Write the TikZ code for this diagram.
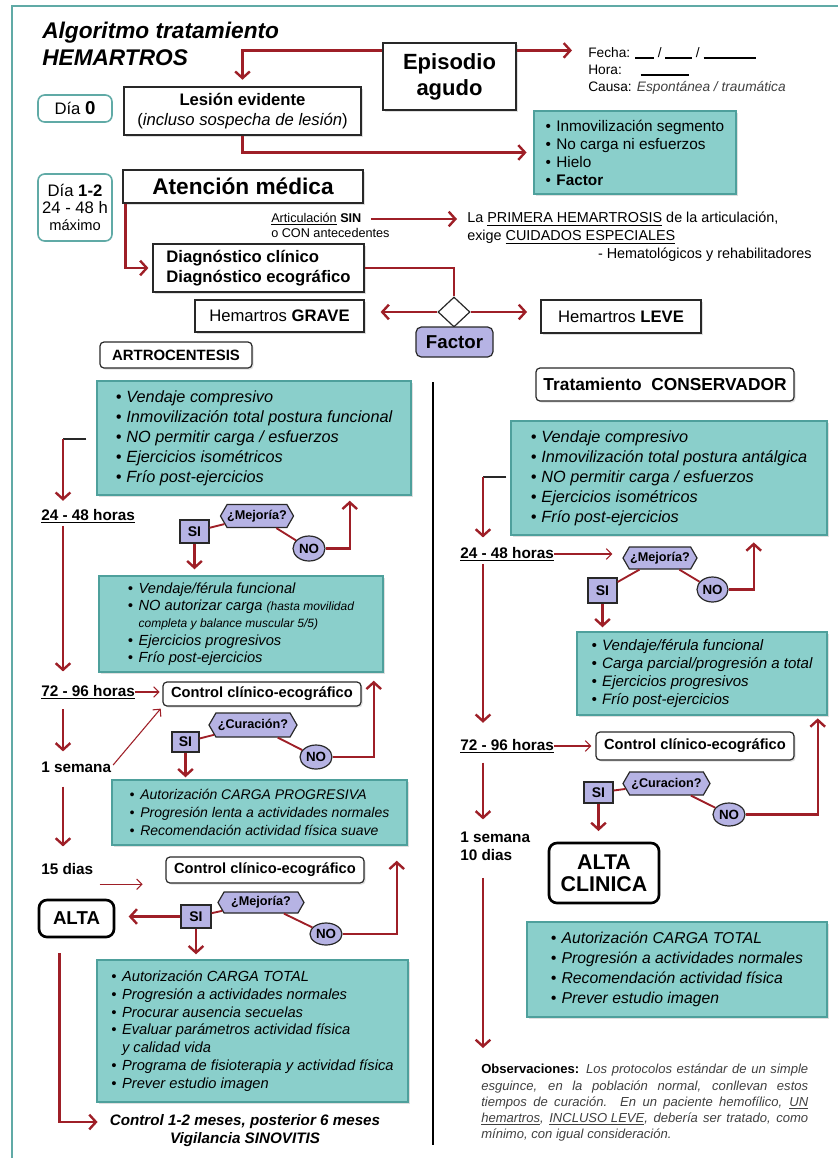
\documentclass[tikz,border=0pt]{standalone}
\usepackage{fontspec}
\setmainfont{Liberation Sans}
\usepackage{xcolor}
\usetikzlibrary{arrows.meta,shapes.geometric,shapes.symbols,shadows,calc}

\definecolor{rojo}{RGB}{158,31,39}
\definecolor{tealfill}{RGB}{138,207,203}
\definecolor{tealline}{RGB}{78,160,156}
\definecolor{marco}{RGB}{96,170,166}
\definecolor{lila}{RGB}{182,179,228}
\definecolor{gris}{RGB}{40,40,40}

\newcommand{\fsz}[2]{\fontsize{#1}{#2}\selectfont}
\newcommand{\vin}{\makebox[8pt][l]{\textbullet}}
\newcommand{\sang}{\hspace*{8pt}}

\tikzset{
  caja/.style={draw=gris, line width=0.9pt, fill=white, inner sep=0pt, align=center,
    drop shadow={opacity=0.25,shadow xshift=1.2pt,shadow yshift=-1.2pt}},
  cajared/.style={caja, rounded corners=3pt},
  cajaalta/.style={draw=black, line width=2pt, fill=white, rounded corners=6pt, inner sep=0pt, align=center, font=\bfseries},
  cajadia/.style={draw=marco, line width=1.2pt, fill=white, rounded corners=5pt, inner sep=0pt, align=center},
  lista/.style={draw=tealline, line width=1.1pt, fill=tealfill, inner sep=0pt, align=left,
    drop shadow={opacity=0.25,shadow xshift=1.2pt,shadow yshift=-1.2pt}},
  pregunta/.style={signal, signal to=east and west, signal pointer angle=120, draw=gris, line width=0.9pt, fill=lila, inner sep=0pt, font=\fsz{9.5}{11}\bfseries},
  sibox/.style={draw=gris, line width=0.9pt, fill=lila, inner sep=0pt, font=\fsz{10.5}{12}\bfseries},
  nobox/.style={ellipse, draw=gris, line width=0.9pt, fill=lila, inner sep=0pt, font=\fsz{10}{12}\bfseries},
  plazo/.style={anchor=west, inner sep=0pt, font=\fsz{11.5}{13}\bfseries},
  flecha/.style={draw=rojo, line width=1.8pt, -{Straight Barb[length=5pt,width=11pt]}},
  flechita/.style={draw=rojo, line width=0.8pt, -{Straight Barb[length=4pt,width=8pt]}},
  enlace/.style={draw=rojo, line width=1.4pt},
}

\begin{document}
\begin{tikzpicture}[x=0.75pt,y=0.75pt,yscale=-1,xscale=1]
\useasboundingbox (0,0) rectangle (838,1158);

%Frame
\draw [marco, line width=2pt] (12,1158) -- (12,6) -- (838,6);
%Straight Lines (separator)
\draw [black, line width=2pt] (433,382) -- (433,1145);

% Text Node
\node [anchor=north west, inner sep=0pt, align=left, font=\fsz{17}{20.25}\bfseries\itshape] (titulo) at (42,22) {Algoritmo tratamiento\\HEMARTROS};

%Shape: Rectangle
\node [caja, minimum width=99.75pt, minimum height=50.25pt, font=\fsz{16.5}{19.5}\bfseries] (episodio) at (449.5,76.5) {Episodio\\agudo};
% Text Node
\node [anchor=north west, inner sep=0pt, align=left, font=\fsz{10.3}{12.75}] (fecha) at (588,47) {Fecha: \rule[-1pt]{14pt}{0.9pt} / \rule[-1pt]{20pt}{0.9pt} / \rule[-1pt]{39pt}{0.9pt}\\Hora:\hspace{14pt}\rule[-1pt]{36pt}{0.9pt}\\Causa: \textit{\color{black!75}Espontánea / traumática}};

%Shape: Rectangle
\node [cajadia, minimum width=55.5pt, minimum height=20.25pt, font=\fsz{12.5}{14}] (dia0) at (75,108.5) {Día \textbf{\fsz{14}{14}0}};
\node [caja, minimum width=177.75pt, minimum height=36pt, font=\fsz{12.5}{15}] (lesion) at (242.5,111) {\textbf{Lesión evidente}\\(\textit{incluso sospecha de lesión})};
\node [lista, minimum width=151.5pt, minimum height=62.25pt, font=\fsz{11.5}{13.5}] (cuidados) at (635,152.5) {\vin Inmovilización segmento\\\vin No carga ni esfuerzos\\\vin Hielo\\\vin \textbf{Factor}};

\node [cajadia, minimum width=55.5pt, minimum height=50.25pt, font=\fsz{12.5}{13}] (dia12) at (75,207.5) {Día \textbf{1-2}\\24 - 48 h\\{\fsz{11}{13}máximo}};
\node [caja, minimum width=180pt, minimum height=24.75pt, font=\fsz{17}{20}\bfseries] (atencion) at (243,186.5) {Atención médica};

% Text Node
\node [anchor=west, inner sep=0pt, font=\fsz{9.5}{11}] (artsin) at (271,219) {\underline{Articulación} \textbf{SIN}};
\node [anchor=west, inner sep=0pt, font=\fsz{9.5}{11}] (conant) at (271,233) {o CON antecedentes};
\node [anchor=north west, inner sep=0pt, align=left, font=\fsz{10.8}{13.5}] (primera) at (467,212) {La \underline{PRIMERA HEMARTROSIS} de la articulación,\\exige \underline{CUIDADOS ESPECIALES}};
\node [anchor=east, inner sep=0pt, font=\fsz{10.8}{13.5}] (hemat) at (812,255) {- Hematológicos y rehabilitadores};

%Shape: Rectangle
\node [caja, align=left, minimum width=158.25pt, minimum height=36pt, font=\fsz{12.5}{15}\bfseries] (diagnostico) at (258.5,268) {Diagnóstico clínico\\Diagnóstico ecográfico};
%Shape: Diamond
\node [diamond, draw=gris, line width=0.9pt, fill=white, inner sep=0pt, minimum width=24pt, minimum height=22.5pt] (rombo) at (454,312) {};
\node [caja, minimum width=126.75pt, minimum height=24pt, font=\fsz{12.5}{14}] (grave) at (279.5,316) {Hemartros \textbf{GRAVE}};
\node [caja, minimum width=120pt, minimum height=24.75pt, font=\fsz{12.5}{14}] (leve) at (621,316.5) {Hemartros \textbf{LEVE}};
\node [draw=gris, line width=0.9pt, fill=lila, rounded corners=4pt, inner sep=0pt, minimum width=57.75pt, minimum height=22.5pt, font=\fsz{14}{16}\bfseries] (factor) at (454.5,342) {Factor};
\node [cajared, minimum width=114pt, minimum height=19.5pt, font=\fsz{11.2}{13}\bfseries] (artro) at (176,355) {ARTROCENTESIS};
\node [cajared, minimum width=193.5pt, minimum height=24.75pt, font=\fsz{13}{15}\bfseries] (conserv) at (665,384.5) {Tratamiento\ \ CONSERVADOR};

%Left column
\node [lista, minimum width=235.5pt, minimum height=85.5pt, font=\fsz{12.2}{15}\itshape] (reposo) at (254,438) {\vin Vendaje compresivo\\\vin Inmovilización total postura funcional\\\vin NO permitir carga / esfuerzos\\\vin Ejercicios isométricos\\\vin Frío post-ejercicios};
\node [plazo] (h2448A) at (41,516) {\underline{24 - 48 horas}};
\node [pregunta, minimum width=54.75pt, minimum height=17.25pt] (mejA) at (257,516) {¿Mejoría?};
\node [sibox, minimum width=21.75pt, minimum height=17.25pt] (siA) at (194.5,531.5) {SI};
\node [nobox, minimum width=24pt, minimum height=18.75pt] (noA) at (309,548.5) {NO};
\node [lista, minimum width=213pt, minimum height=72pt, font=\fsz{11}{13}\itshape] (funcional) at (241,624) {\vin Vendaje/férula funcional\\\vin NO autorizar carga {\fsz{9}{13}(hasta movilidad}\\\sang{\fsz{9}{13}completa y balance muscular 5/5)}\\\vin Ejercicios progresivos\\\vin Frío post-ejercicios};

\node [plazo] (h7296A) at (41,692) {\underline{72 - 96 horas}};
\node [cajared, minimum width=148.5pt, minimum height=18pt, font=\fsz{11}{13}\bfseries] (ctrlA) at (262,694) {Control clínico-ecográfico};
\node [pregunta, minimum width=66pt, minimum height=18pt] (curA) at (253,725) {¿Curación?};
\node [sibox, minimum width=20.25pt, minimum height=15pt] (siB) at (185.5,742) {SI};
\node [nobox, minimum width=24pt, minimum height=18pt] (noB) at (316,757) {NO};
\node [plazo] (sem1A) at (41,767) {1 semana};
\node [lista, minimum width=221.25pt, minimum height=48.75pt, font=\fsz{10.5}{13.5}\itshape] (progresiva) at (259.5,812.5) {\vin Autorización CARGA PROGRESIVA\\\vin Progresión lenta a actividades normales\\\vin Recomendación actividad física suave};

\node [plazo] (d15A) at (41,869) {15 dias};
\node [cajared, minimum width=148.5pt, minimum height=19.5pt, font=\fsz{11}{13}\bfseries] (ctrlB) at (265,870) {Control clínico-ecográfico};
\node [pregunta, minimum width=64.5pt, minimum height=15.75pt] (mejB) at (261,902.5) {¿Mejoría?};
\node [sibox, minimum width=22.5pt, minimum height=17.25pt] (siC) at (196,916.5) {SI};
\node [nobox, minimum width=24pt, minimum height=16.5pt] (noC) at (326,934) {NO};
\node [cajaalta, minimum width=56.25pt, minimum height=27.75pt, font=\fsz{14}{16}\bfseries] (altaA) at (76.5,918.5) {ALTA};
\node [lista, minimum width=233.25pt, minimum height=106.5pt, font=\fsz{11}{13.3}\itshape] (total) at (252.5,1031) {\vin Autorización CARGA TOTAL\\\vin Progresión a actividades normales\\\vin Procurar ausencia secuelas\\\vin Evaluar parámetros actividad física\\\sang y calidad vida\\\vin Programa de fisioterapia y actividad física\\\vin Prever estudio imagen};
% Text Node
\node [anchor=north, inner sep=0pt, align=center, font=\fsz{11.4}{13.5}\bfseries\itshape] (ctrl12) at (245,1114) {Control 1-2 meses, posterior 6 meses\\Vigilancia SINOVITIS};

%Right column
\node [lista, minimum width=237pt, minimum height=85.5pt, font=\fsz{12.2}{15}\itshape] (reposoB) at (669,478) {\vin Vendaje compresivo\\\vin Inmovilización total postura antálgica\\\vin NO permitir carga / esfuerzos\\\vin Ejercicios isométricos\\\vin Frío post-ejercicios};
\node [plazo] (h2448B) at (460,554) {\underline{24 - 48 horas}};
\node [pregunta, minimum width=55.5pt, minimum height=16.5pt] (mejC) at (660,558) {¿Mejoría?};
\node [sibox, minimum width=21.75pt, minimum height=18.75pt] (siD) at (602.5,590.5) {SI};
\node [nobox, minimum width=23.25pt, minimum height=18.75pt] (noD) at (712.5,589.5) {NO};
\node [lista, minimum width=187.5pt, minimum height=62.25pt, font=\fsz{11.3}{13.5}\itshape] (parcial) at (702,673.5) {\vin Vendaje/férula funcional\\\vin Carga parcial/progresión a total\\\vin Ejercicios progresivos\\\vin Frío post-ejercicios};

\node [plazo] (h7296B) at (460,746) {\underline{72 - 96 horas}};
\node [cajared, minimum width=148.5pt, minimum height=21pt, font=\fsz{11}{13}\bfseries] (ctrlC) at (695,746) {Control clínico-ecográfico};
\node [pregunta, minimum width=65.25pt, minimum height=17.25pt] (curB) at (666.5,783.5) {¿Curacion?};
\node [sibox, minimum width=21.75pt, minimum height=15.75pt] (siE) at (598.5,792.5) {SI};
\node [nobox, minimum width=24pt, minimum height=17.25pt] (noE) at (729,814.5) {NO};
\node [plazo, align=left, font=\fsz{11.5}{13.5}\bfseries] (sem1B) at (460,846) {1 semana\\10 dias};
\node [cajaalta, minimum width=82.5pt, minimum height=45pt, font=\fsz{16}{16.5}\bfseries] (altaB) at (604,873) {ALTA\\CLINICA};
\node [lista, minimum width=225pt, minimum height=71.25pt, font=\fsz{11.8}{15}\itshape] (totalB) at (677,969.5) {\vin Autorización CARGA TOTAL\\\vin Progresión a actividades normales\\\vin Recomendación actividad física\\\vin Prever estudio imagen};
% Text Node
\node [anchor=north west, inner sep=0pt, text width=245.25pt, align=justify, font=\fsz{9.8}{12.2}] (obs) at (481,1064) {\textbf{Observaciones:} \textit{\color{black!75}Los protocolos estándar de un simple\linebreak esguince, en la población normal, conllevan estos\linebreak tiempos de curación. En un paciente hemofílico, \underline{UN}\linebreak \underline{hemartros}, \underline{INCLUSO LEVE}, debería ser tratado, como\linebreak mínimo, con igual consideración.}};

%Connectors top
\draw [flecha, shorten >=5pt] ([yshift=6pt]episodio.north west) -| (lesion.north);
\draw [flecha, shorten >=12pt] ([yshift=6pt]episodio.north east) -- ([yshift=6pt]episodio.north east -| fecha.west);
\draw [flecha, shorten >=5pt] (lesion.south) |- (cuidados.west);
\draw [flecha, shorten >=3pt] ([xshift=2.25pt]atencion.south west) |- (diagnostico.west);
\draw [flecha, shorten <=7pt, shorten >=7.5pt] (artsin.east) -- (artsin.east -| primera.west);
\draw [enlace] (diagnostico.east) -| (rombo.north);
\draw [flecha, shorten >=12pt] (rombo.west) -- (rombo.west -| grave.east);
\draw [flecha, shorten >=10pt] (rombo.east) -- (rombo.east -| leve.west);

%Connectors left column
\coordinate (colA) at (63,0);
\coordinate (brA) at (63,439);
\draw [gris, line width=1.8pt] ([xshift=-7.5pt]reposo.west |- brA) -- (brA);
\draw [flecha, shorten >=6pt] (brA) -- (brA |- h2448A.north);
\draw [flecha, shorten <=2pt, shorten >=10pt] (h2448A.south -| colA) -- (h7296A.north -| colA);
\draw [enlace] (siA) -- (mejA);
\draw [enlace] (mejA) -- (noA);
\draw [flecha, shorten >=3.75pt] (noA.east) -| ([xshift=-46.5pt]reposo.south east);
\draw [flecha, shorten >=4.5pt] (siA.south) -- (siA.south |- funcional.north);

\draw [flechita, shorten >=2pt] (h7296A.east) -- (h7296A.east -| ctrlA.west);
\draw [flechita, shorten <=2pt, shorten >=2pt] (sem1A.east) -- (ctrlA.south west);
\draw [flecha, shorten <=7.5pt, shorten >=7.5pt] (h7296A.south -| colA) -- (sem1A.north -| colA);
\draw [enlace] (siB) -- (curA);
\draw [enlace] (curA) -- (noB);
\draw [flecha, shorten >=6pt] (noB.east) -| ([xshift=-7.5pt]funcional.south east);
\draw [flecha, shorten >=1.5pt] (siB.south) -- (siB.south |- progresiva.north);
\draw [flecha, shorten <=10.5pt, shorten >=12.5pt] (sem1A.south -| colA) -- (d15A.north -| colA);

\draw [flechita, shorten >=17pt] ([xshift=4.5pt,yshift=7pt]d15A.south east) -- ([yshift=7pt]d15A.south east -| ctrlB.west);
\draw [enlace] (siC) -- (mejB);
\draw [enlace] (mejB) -- (noC);
\draw [flecha, shorten >=10pt] (siC.west) -- (siC.west -| altaA.east);
\draw [flecha, shorten >=11.25pt] (noC.east) -| ([xshift=-8.25pt]progresiva.south east);
\draw [flecha, shorten >=3.75pt] (siC.south) -- (siC.south |- total.north);
\draw [flecha, shorten <=11.25pt, shorten >=9pt] ([xshift=16.5pt]altaA.south west) |- ([yshift=6pt]ctrl12.north west);

%Connectors right column
\coordinate (colB) at (483,0);
\coordinate (brB) at (483,477);
\draw [gris, line width=1.8pt] ([xshift=-3pt]reposoB.west |- brB) -- (brB);
\draw [flecha, shorten >=7pt] (brB) -- (brB |- h2448B.north);
\draw [flechita, shorten >=7.5pt] (h2448B.east) -- (h2448B.east -| mejC.west);
\draw [enlace] (siD) -- (mejC);
\draw [enlace] (mejC) -- (noD);
\draw [flecha, shorten >=5pt] (noD.east) -| ([xshift=-55.5pt]reposoB.south east);
\draw [flecha, shorten >=3pt] (siD.south) -- (siD.south |- parcial.north);
\draw [flecha, shorten <=2pt, shorten >=12pt] (h2448B.south -| colB) -- (h7296B.north -| colB);

\draw [flechita, shorten >=3pt] (h7296B.east) -- (h7296B.east -| ctrlC.west);
\draw [enlace] (siE) -- (curB);
\draw [enlace] (curB) -- (noE);
\draw [flecha, shorten >=2pt] (noE.east) -| ([xshift=-7.5pt]parcial.south east);
\draw [flecha, shorten >=8pt] (siE.south) -- (siE.south |- altaB.north);
\draw [flecha, shorten <=7pt, shorten >=9pt] (h7296B.south -| colB) -- (sem1B.north -| colB);
\draw [flecha, shorten <=13pt, shorten >=12pt] (sem1B.south -| colB) -- (obs.north -| colB);

\end{tikzpicture}
\end{document}
